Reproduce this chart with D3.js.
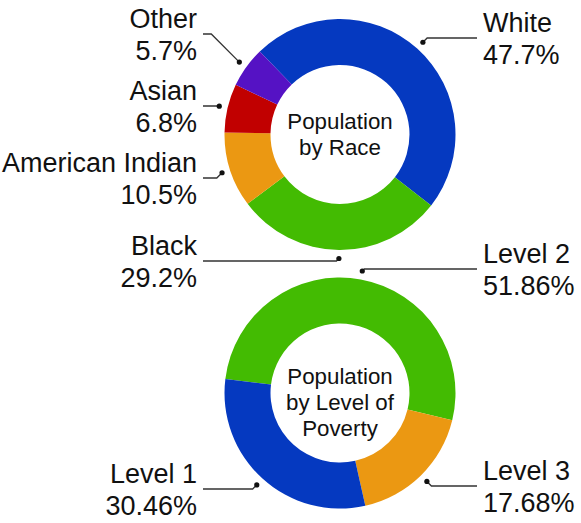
<html>
    <head>
        <title>Population donuts</title>
        <style>
            body { margin: 0; background: #fff; }
            text { font-family: "Liberation Sans", Arial, sans-serif; fill: #111; }
        </style>
    </head>
    <body>
        <div id="chart"></div>

        <script src="https://cdnjs.cloudflare.com/ajax/libs/d3/7.8.5/d3.min.js"></script>
        <script>
            // race breakdown (clockwise from the upper left)
            var raceNames = ["White", "Black", "American Indian", "Asian", "Other"];
            var raceValues = [47.7, 29.2, 10.5, 6.8, 5.7];
            var raceColors = ["#0539c0", "#43bb02", "#eb9812", "#c10000", "#5512c4"];

            // poverty breakdown
            var povertyNames = ["Level 2", "Level 3", "Level 1"];
            var povertyValues = [51.86, 17.68, 30.46];
            var povertyColors = ["#43bb02", "#eb9812", "#0539c0"];

            var width = 581, height = 523;

            var svg = d3.select("#chart")
                .append("svg")
                .attr("width", width)
                .attr("height", height);

            var deg = Math.PI / 180;

            // layout for each donut: center, start angle, label side + baseline
            var donuts = [
                {
                    names: raceNames, values: raceValues, colors: raceColors, decimals: 1,
                    cx: 340, cy: 134.5, start: -44 * deg,
                    title: ["Population", "by Race"], titleY: [-5.5, 20.5],
                    labels: [
                        { side: "right", y: 32 },
                        { side: "left", y: 255 },
                        { side: "left", y: 172 },
                        { side: "left", y: 100 },
                        { side: "left", y: 28 }
                    ]
                },
                {
                    names: povertyNames, values: povertyValues, colors: povertyColors, decimals: 2,
                    cx: 340, cy: 393, start: -83 * deg,
                    title: ["Population", "by Level of", "Poverty"], titleY: [-9, 17, 43],
                    labels: [
                        { side: "right", y: 263 },
                        { side: "right", y: 480 },
                        { side: "left", y: 483 }
                    ]
                }
            ];

            var outerR = 115.5, innerR = 69.5, dotR = 124;
            var leftX = 197, rightX = 483;

            var arc = d3.arc().innerRadius(innerR).outerRadius(outerR);

            donuts.forEach(function(dn) {
                var pie = d3.pie()
                    .sort(null)
                    .startAngle(dn.start)
                    .endAngle(dn.start + 2 * Math.PI);

                var rows = dn.names.map(function(n, i) {
                    return { name: n, value: dn.values[i], color: dn.colors[i], label: dn.labels[i] };
                });

                var g = svg.append("g")
                    .attr("transform", "translate(" + dn.cx + "," + dn.cy + ")");

                var arcs = pie.value(function(d) { return d.value; })(rows);

                g.selectAll("path")
                    .data(arcs)
                    .enter()
                    .append("path")
                    .attr("d", arc)
                    .attr("fill", function(d) { return d.data.color; });

                // center title
                g.selectAll("text.title")
                    .data(dn.title)
                    .enter()
                    .append("text")
                    .attr("class", "title")
                    .attr("text-anchor", "middle")
                    .attr("y", function(t, i) { return dn.titleY[i]; })
                    .style("font-size", "22.3px")
                    .text(function(t) { return t; });

                // leader lines + labels
                arcs.forEach(function(a) {
                    var mid = (a.startAngle + a.endAngle) / 2;
                    var dx = dn.cx + dotR * Math.sin(mid);
                    var dy = dn.cy - dotR * Math.cos(mid);
                    var lab = a.data.label;
                    var lineY = lab.y + 6;
                    var off = Math.abs(lineY - dy);
                    var isLeft = lab.side === "left";
                    var elbowX = isLeft ? dx - off : dx + off;
                    var endX = isLeft ? leftX + 6 : rightX - 6;

                    svg.append("path")
                        .attr("d", d3.line()([[endX, lineY], [elbowX, lineY], [dx, dy]]))
                        .attr("fill", "none")
                        .attr("stroke", "#333")
                        .attr("stroke-width", 1.3);

                    svg.append("circle")
                        .attr("cx", dx)
                        .attr("cy", dy)
                        .attr("r", 2.6)
                        .attr("fill", "#111");

                    var t = svg.append("text")
                        .attr("x", isLeft ? leftX : rightX)
                        .attr("y", lab.y)
                        .attr("text-anchor", isLeft ? "end" : "start")
                        .style("font-size", "27px");
                    t.append("tspan")
                        .attr("x", isLeft ? leftX : rightX)
                        .text(a.data.name);
                    t.append("tspan")
                        .attr("x", isLeft ? leftX : rightX)
                        .attr("dy", 32)
                        .text(a.data.value.toFixed(dn.decimals) + "%");
                });
            });
        </script>
    </body>
</html>
